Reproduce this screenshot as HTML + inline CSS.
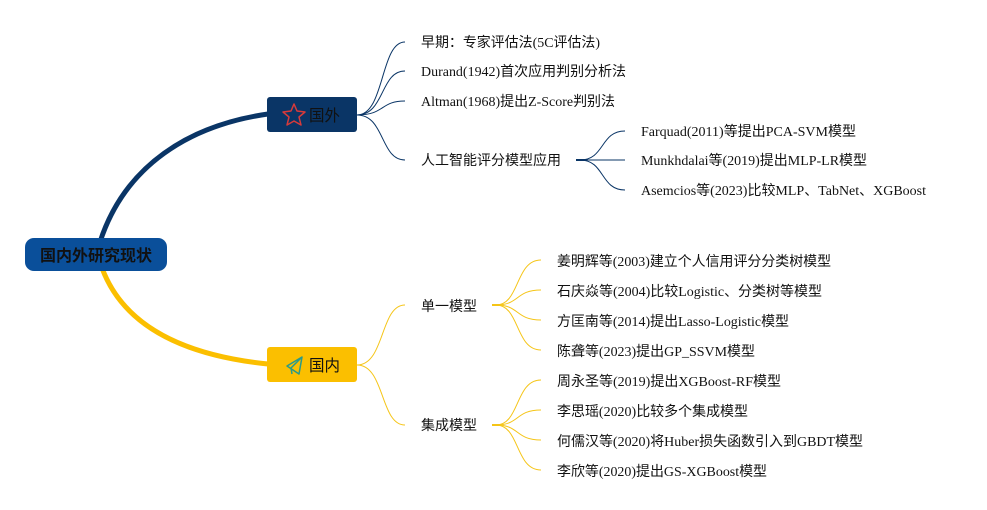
<!DOCTYPE html>
<html><head><meta charset="utf-8"><style>
html,body{margin:0;padding:0;background:#fff;}
svg{display:block;}
text{font-family:"Liberation Serif","Noto Sans CJK SC",serif;font-size:14px;fill:#111;}
.cj{font-family:"Liberation Sans","Noto Sans CJK SC",sans-serif;}
</style></head><body>
<svg width="987" height="510" viewBox="0 0 987 510" xmlns="http://www.w3.org/2000/svg">
<!-- main branches -->
<path d="M100,242 C125,165 190,125 268,114" fill="none" stroke="#0a3566" stroke-width="5"/>
<path d="M102,268 C125,330 190,356 268,364" fill="none" stroke="#fbbf00" stroke-width="5"/>
<!-- foreign branches -->
<g fill="none" stroke="#0a3566" stroke-width="1">
<path d="M357,115 C385,115 380,42 405,42"/>
<path d="M357,115 C385,115 380,71 405,71"/>
<path d="M357,115 C385,115 380,101 405,101"/>
<path d="M357,115 C385,115 380,160 405,160"/>
<path d="M576,160 L586,160" stroke-width="2"/>
<path d="M580,160 C605,160 600,131 625,131"/>
<path d="M580,160 L625,160"/>
<path d="M580,160 C605,160 600,190 625,190"/>
</g>
<!-- domestic branches -->
<g fill="none" stroke="#f5c518" stroke-width="1">
<path d="M357,365 C385,365 380,305 405,305"/>
<path d="M357,365 C385,365 380,425 405,425"/>
<path d="M492,305 L500,305" stroke-width="2"/>
<path d="M492,425 L500,425" stroke-width="2"/>
<path d="M496,305 C520,305 515,260 541,260"/>
<path d="M496,305 C520,305 515,290 541,290"/>
<path d="M496,305 C520,305 515,320 541,320"/>
<path d="M496,305 C520,305 515,350 541,350"/>
<path d="M496,425 C520,425 515,380 541,380"/>
<path d="M496,425 C520,425 515,410 541,410"/>
<path d="M496,425 C520,425 515,440 541,440"/>
<path d="M496,425 C520,425 515,470 541,470"/>
</g>
<!-- nodes -->
<rect x="25" y="238" width="142" height="33" rx="9" fill="#0a4f9a"/>
<text x="40" y="261" class="cj" style="font-size:16px;font-weight:bold" textLength="112" lengthAdjust="spacingAndGlyphs">国内外研究现状</text>
<rect x="267" y="97" width="90" height="35" rx="3" fill="#0a3566"/>
<polygon points="294,104 297,111 305,112 299,117 301,125 294,121 287,125 289,117 283,112 291,111" fill="none" stroke="#d83a3a" stroke-width="1.5" stroke-linejoin="round"/>
<text x="309" y="121" class="cj" style="font-size:16px" textLength="31" lengthAdjust="spacingAndGlyphs">国外</text>
<rect x="267" y="347" width="90" height="35" rx="3" fill="#fbbf00"/>
<path d="M287,366 L302,357 L299,374 Z M291,368 L302,357 M291,368 L292,374" fill="none" stroke="#2a9a8a" stroke-width="1.5" stroke-linejoin="round"/>
<text x="309" y="371" class="cj" style="font-size:16px" textLength="31" lengthAdjust="spacingAndGlyphs">国内</text>
<!-- labels -->
<g>
<text x="421" y="47" textLength="179" lengthAdjust="spacingAndGlyphs">早期：专家评估法(5C评估法)</text>
<text x="421" y="76" textLength="205" lengthAdjust="spacingAndGlyphs">Durand(1942)首次应用判别分析法</text>
<text x="421" y="106" textLength="194" lengthAdjust="spacingAndGlyphs">Altman(1968)提出Z-Score判别法</text>
<text x="421" y="165" textLength="140" lengthAdjust="spacingAndGlyphs">人工智能评分模型应用</text>
<text x="641" y="136" textLength="215" lengthAdjust="spacingAndGlyphs">Farquad(2011)等提出PCA-SVM模型</text>
<text x="641" y="165" textLength="226" lengthAdjust="spacingAndGlyphs">Munkhdalai等(2019)提出MLP-LR模型</text>
<text x="641" y="195" textLength="285" lengthAdjust="spacingAndGlyphs">Asemcios等(2023)比较MLP、TabNet、XGBoost</text>
<text x="421" y="311" textLength="56" lengthAdjust="spacingAndGlyphs">单一模型</text>
<text x="421" y="430" textLength="56" lengthAdjust="spacingAndGlyphs">集成模型</text>
<text x="557" y="266" textLength="274" lengthAdjust="spacingAndGlyphs">姜明辉等(2003)建立个人信用评分分类树模型</text>
<text x="557" y="296" textLength="265" lengthAdjust="spacingAndGlyphs">石庆焱等(2004)比较Logistic、分类树等模型</text>
<text x="557" y="326" textLength="232" lengthAdjust="spacingAndGlyphs">方匡南等(2014)提出Lasso-Logistic模型</text>
<text x="557" y="356" textLength="198" lengthAdjust="spacingAndGlyphs">陈聋等(2023)提出GP_SSVM模型</text>
<text x="557" y="386" textLength="224" lengthAdjust="spacingAndGlyphs">周永圣等(2019)提出XGBoost-RF模型</text>
<text x="557" y="416" textLength="191" lengthAdjust="spacingAndGlyphs">李思瑶(2020)比较多个集成模型</text>
<text x="557" y="446" textLength="306" lengthAdjust="spacingAndGlyphs">何儒汉等(2020)将Huber损失函数引入到GBDT模型</text>
<text x="557" y="476" textLength="210" lengthAdjust="spacingAndGlyphs">李欣等(2020)提出GS-XGBoost模型</text>
</g>
</svg>
</body></html>
